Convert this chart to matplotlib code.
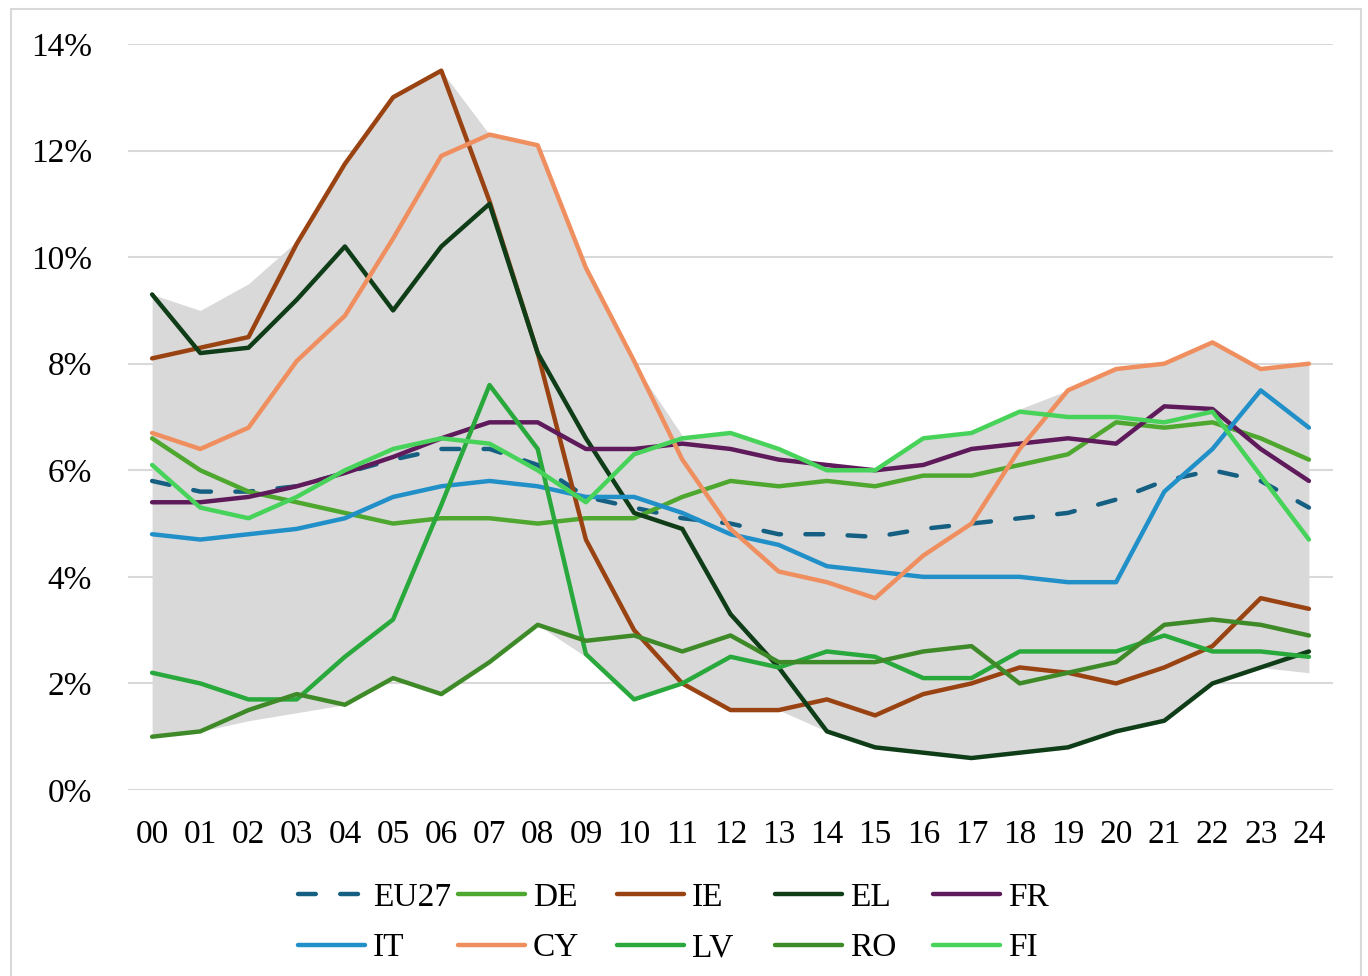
import matplotlib
matplotlib.use('Agg')
import matplotlib.pyplot as plt
import matplotlib.ticker as ticker
from matplotlib.patches import Rectangle

plt.rcParams['font.family'] = ['Liberation Serif', 'DejaVu Serif']

hours = ['00', '01', '02', '03', '04', '05', '06', '07', '08', '09', '10', '11', '12',
         '13', '14', '15', '16', '17', '18', '19', '20', '21', '22', '23', '24']

# range across all member states (grey band)
band_max = [9.3, 9.0, 9.5, 10.3, 11.7, 13.0, 13.5, 12.3, 12.1, 9.8, 8.0, 6.65, 6.7,
            6.4, 6.1, 6.0, 6.6, 6.7, 7.15, 7.5, 7.9, 8.0, 8.4, 7.9, 8.0]
band_min = [1.0, 1.1, 1.3, 1.45, 1.6, 2.1, 1.8, 2.4, 3.1, 2.5, 1.7, 2.0, 1.5,
            1.5, 1.1, 0.8, 0.7, 0.6, 0.7, 0.8, 1.1, 1.3, 2.0, 2.3, 2.2]

eu27 = [5.8, 5.6, 5.6, 5.7, 5.95, 6.2, 6.4, 6.4, 6.1, 5.5, 5.3, 5.1, 5.0,
        4.8, 4.8, 4.75, 4.9, 5.0, 5.1, 5.2, 5.45, 5.8, 6.0, 5.8, 5.3]
de = [6.6, 6.0, 5.6, 5.4, 5.2, 5.0, 5.1, 5.1, 5.0, 5.1, 5.1, 5.5, 5.8,
      5.7, 5.8, 5.7, 5.9, 5.9, 6.1, 6.3, 6.9, 6.8, 6.9, 6.6, 6.2]
ie = [8.1, 8.3, 8.5, 10.25, 11.75, 13.0, 13.5, 11.05, 8.2, 4.7, 3.0, 2.0, 1.5,
      1.5, 1.7, 1.4, 1.8, 2.0, 2.3, 2.2, 2.0, 2.3, 2.7, 3.6, 3.4]
el = [9.3, 8.2, 8.3, 9.2, 10.2, 9.0, 10.2, 11.0, 8.2, 6.6, 5.2, 4.9, 3.3,
      2.3, 1.1, 0.8, 0.7, 0.6, 0.7, 0.8, 1.1, 1.3, 2.0, 2.3, 2.6]
fr = [5.4, 5.4, 5.5, 5.7, 5.95, 6.25, 6.6, 6.9, 6.9, 6.4, 6.4, 6.5, 6.4,
      6.2, 6.1, 6.0, 6.1, 6.4, 6.5, 6.6, 6.5, 7.2, 7.15, 6.4, 5.8]
it = [4.8, 4.7, 4.8, 4.9, 5.1, 5.5, 5.7, 5.8, 5.7, 5.5, 5.5, 5.2, 4.8,
      4.6, 4.2, 4.1, 4.0, 4.0, 4.0, 3.9, 3.9, 5.6, 6.4, 7.5, 6.8]
cy = [6.7, 6.4, 6.8, 8.05, 8.9, 10.35, 11.9, 12.3, 12.1, 9.8, 8.05, 6.2, 4.9,
      4.1, 3.9, 3.6, 4.4, 5.0, 6.4, 7.5, 7.9, 8.0, 8.4, 7.9, 8.0]
lv = [2.2, 2.0, 1.7, 1.7, 2.5, 3.2, 5.35, 7.6, 6.4, 2.55, 1.7, 2.0, 2.5,
      2.3, 2.6, 2.5, 2.1, 2.1, 2.6, 2.6, 2.6, 2.9, 2.6, 2.6, 2.5]
ro = [1.0, 1.1, 1.5, 1.8, 1.6, 2.1, 1.8, 2.4, 3.1, 2.8, 2.9, 2.6, 2.9,
      2.4, 2.4, 2.4, 2.6, 2.7, 2.0, 2.2, 2.4, 3.1, 3.2, 3.1, 2.9]
fi = [6.1, 5.3, 5.1, 5.5, 6.0, 6.4, 6.6, 6.5, 6.0, 5.4, 6.3, 6.6, 6.7,
      6.4, 6.0, 6.0, 6.6, 6.7, 7.1, 7.0, 7.0, 6.9, 7.1, 5.9, 4.7]

series = [
    ('EU27', eu27, '#156082'),
    ('DE', de, '#4ea72e'),
    ('IE', ie, '#9a4312'),
    ('EL', el, '#0f3d18'),
    ('FR', fr, '#5e1a5a'),
    ('IT', it, '#2190c8'),
    ('CY', cy, '#ef8f5f'),
    ('LV', lv, '#29a83c'),
    ('RO', ro, '#3f8a28'),
    ('FI', fi, '#47d35a'),
]

fig = plt.figure(figsize=(13.68, 9.76), dpi=100)
ax = fig.add_axes([128 / 1368, 1 - 790 / 976, 1205 / 1368, 746 / 976])

x = list(range(len(hours)))
ax.fill_between(x, band_min, band_max, color='#d9d9d9', linewidth=0, zorder=1)

handles = {}
for name, vals, col in series:
    if name == 'EU27':
        ln, = ax.plot(x, vals, color=col, lw=3.2, dashes=(4, 5.5), dash_capstyle='round',
                      dash_joinstyle='round', zorder=3, label=name)
    else:
        ln, = ax.plot(x, vals, color=col, lw=3.2, solid_capstyle='round',
                      solid_joinstyle='round', zorder=3, label=name)
    handles[name] = ln

ax.set_xlim(-0.5, len(hours) - 0.5)
ax.set_ylim(0, 14)
ax.set_xticks(x)
ax.set_xticklabels(hours)
ax.yaxis.set_major_locator(ticker.MultipleLocator(2))
ax.yaxis.set_major_formatter(ticker.FuncFormatter(lambda v, p: f'{v:.0f}%'))
ax.grid(axis='y', color='#d9d9d9', lw=1.5, zorder=0)
ax.set_axisbelow(True)
for s in ax.spines.values():
    s.set_visible(False)
ax.tick_params(axis='both', length=0, labelsize=24, colors='black')
ax.tick_params(axis='y', pad=26)
ax.tick_params(axis='x', pad=21)

# legend: equal-width columns, filled row by row like the original
columns = [('EU27', 'IT'), ('DE', 'CY'), ('IE', 'LV'), ('EL', 'RO'), ('FR', 'FI')]
col_x = [298, 458, 617, 775, 933]
for names, cx in zip(columns, col_x):
    leg = fig.legend([handles[n] for n in names], list(names), ncol=1, loc='center left',
                     bbox_to_anchor=(cx / 1368, 1 - 923 / 976), frameon=False, fontsize=24,
                     handlelength=2.0, handletextpad=0.25, labelspacing=0.6, borderpad=0,
                     borderaxespad=0)

fig.patches.append(Rectangle((11 / 1368, -0.01), 1350 / 1368, 1 - 9 / 976 + 0.01,
                             transform=fig.transFigure, fill=False,
                             edgecolor='#d9d9d9', lw=1.5))

plt.savefig('out.png', dpi=100)
plt.close()
